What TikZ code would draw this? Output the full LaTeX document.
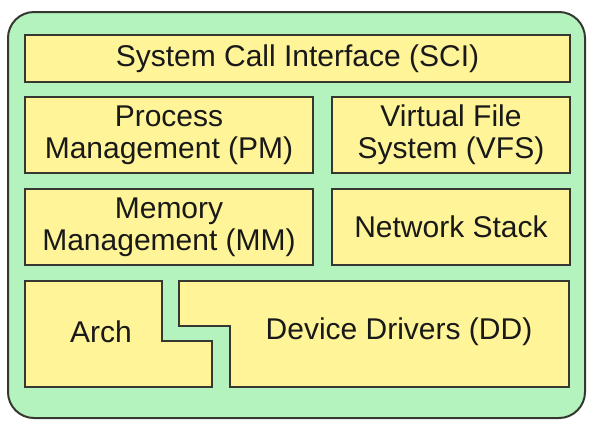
\documentclass[tikz,border=0pt]{standalone}
\usepackage{fontspec}
\setmainfont{Liberation Sans}
\definecolor{outergreen}{RGB}{180,242,190}
\definecolor{boxyellow}{RGB}{255,245,152}
\definecolor{edgegray}{RGB}{55,55,50}
\definecolor{txt}{RGB}{25,25,25}
\begin{document}
\begin{tikzpicture}[x=1pt,y=-1pt,
  blk/.style={draw=edgegray,line width=2pt,fill=boxyellow,rectangle,inner sep=0pt,
    text=txt,align=center,font=\fontsize{30}{32}\selectfont},
  lbl/.style={text=txt,align=center,font=\fontsize{30}{32}\selectfont,inner sep=0pt}]
\useasboundingbox (0,0) rectangle (591,429);
\draw[draw=edgegray,line width=2pt,fill=outergreen,rounded corners=26pt] (8,12) rectangle (585,418);
\node[blk,minimum width=545pt,minimum height=47pt] (sci) at (297.5,58.5) {System Call Interface (SCI)};
\node[blk,minimum width=288pt,minimum height=76pt] (pm) at (169,135) {Process\\Management (PM)};
\node[blk,minimum width=238pt,minimum height=76pt] (vfs) at (451,135) {Virtual File\\System (VFS)};
\node[blk,minimum width=288pt,minimum height=76pt] (mm) at (169,227) {Memory\\Management (MM)};
\node[blk,minimum width=238pt,minimum height=76pt] (ns) at (451,227) {Network Stack};
\draw[draw=edgegray,line width=2pt,fill=boxyellow] (25,281) -- (162,281) -- (162,341) -- (212,341) -- (212,387) -- (25,387) -- cycle;
\draw[draw=edgegray,line width=2pt,fill=boxyellow] (179,281) -- (569,281) -- (569,387) -- (230,387) -- (230,326) -- (179,326) -- cycle;
\node[lbl] (arch) at (101,332) {Arch};
\node[lbl] (dd) at (399,332) {Device Drivers (DD)};
\end{tikzpicture}
\end{document}
